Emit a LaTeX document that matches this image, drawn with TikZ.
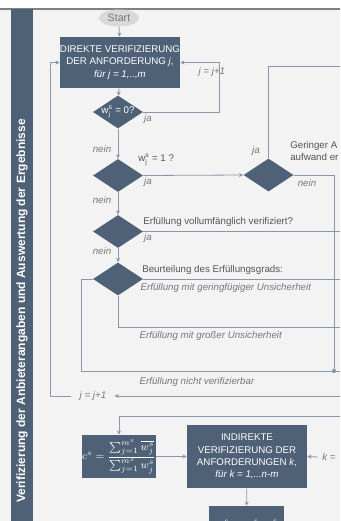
\documentclass[tikz,border=0pt]{standalone}
\usepackage{amsmath}
\usepackage{fontspec}
\setmainfont{Liberation Sans}
\usepackage{tikz}
\usetikzlibrary{positioning, shapes.geometric, arrows.meta, calc}

\definecolor{slate}{HTML}{4F6177}
\definecolor{bglight}{HTML}{F3F3F3}
\definecolor{linecol}{HTML}{8A97AA}
\definecolor{lblgray}{HTML}{777777}
\definecolor{condgray}{HTML}{555555}
\definecolor{startgray}{HTML}{D9D9D9}

\newcommand{\boxfont}{\fontsize{7.3pt}{9.3pt}\selectfont}

\tikzset{
  arrow/.style={-{Stealth[length=3.2pt,width=3pt]}, draw=linecol, line width=0.6pt},
  link/.style={draw=linecol, line width=0.6pt},
  procbox/.style={
    fill=slate, text=white, inner sep=0pt,
    align=center, font=\boxfont
  },
  decision/.style={
    diamond, fill=slate, inner sep=0pt,
    minimum width=37.5pt, minimum height=24.75pt
  }
}

\begin{document}
\begin{tikzpicture}[x=0.75pt, y=-0.75pt,
  startnode/.style={ellipse, fill=startgray, text=lblgray, minimum width=30pt, minimum height=12.75pt, inner sep=0pt, font=\fontsize{8pt}{9pt}\selectfont},
  lbl/.style={font=\boxfont\itshape, text=lblgray, inner sep=1pt},
  cond/.style={font=\boxfont, text=condgray, inner sep=0pt, anchor=west},
  dtext/.style={font=\boxfont, text=white},
  lane/.style={rotate=90, text=white, font=\fontsize{9pt}{10pt}\selectfont\bfseries}
]
\useasboundingbox (0,0) rectangle (340,521);
\clip (0,0) rectangle (340,521);

%% background and lane
\fill[bglight] (0,9) rectangle (340,521);
\draw[gray, line width=0.8pt] (0,9) -- (340,9);
\fill[slate] (11,9) rectangle (33,521);
\node[lane] (lanetitle) at (22,311) {Verifizierung der Anbieterangaben und Auswertung der Ergebnisse};

%% direct verification
\node[startnode] (start) at (119,18) {Start};
\node[procbox, minimum width=90pt, minimum height=38.25pt] (dirv) at (120,62.5)
  {DIREKTE VERIFIZIERUNG\\DER ANFORDERUNG \textit{j},\\\textit{für j = 1,..,m}};

\node[decision, label={[dtext]center:$\mathrm{w}_{\mathrm{j}}^{\mathrm{s}}$ = 0?}] (d1) at (118,112) {};
\node[decision] (d2) at (118,175.5) {};
\node[decision] (d3) at (118,231.5) {};
\node[decision] (d4) at (118,279) {};
\node[decision] (dr) at (268.5,175) {};

%% exits to the right
\coordinate (outA) at (340,66);
\coordinate (outB) at (340,231.5);
\coordinate (outC) at (340,279);
\coordinate (outD) at (340,327);
\coordinate (outE) at (340,371);
\coordinate (jn) at (334,371);
\coordinate (jin) at (340,396);
\coordinate (fin) at (340,416);

%% condition texts
\node[cond] (c2) at (138,160) {$\mathrm{w}_{\mathrm{j}}^{\mathrm{s}}$ = 1 ?};
\node[cond] (c3) at (143,222) {Erfüllung vollumfänglich verifiziert?};
\node[cond] (c4) at (142,270) {Beurteilung des Erfüllungsgrads:};
\node[cond, anchor=north west, align=left] (cr) at (290,141) {Geringer A\\aufwand er};

%% labels
\node[lbl, anchor=west] (jnext) at (197,72) {j = j+1};
\node[lbl] (nein1) at (102,149) {nein};
\node[lbl] (nein2) at (102,200) {nein};
\node[lbl] (nein3) at (102,251) {nein};
\node[lbl] (ja1) at (148,119) {ja};
\node[lbl] (ja2) at (148,182) {ja};
\node[lbl] (ja3) at (148,238) {ja};
\node[lbl] (jar) at (256,151) {ja};
\node[lbl] (neinr) at (307,183) {nein};
\node[lbl, anchor=west] (e1) at (139,288) {Erfüllung mit geringfügiger Unsicherheit};
\node[lbl, anchor=west] (e2) at (138,336) {Erfüllung mit großer Unsicherheit};
\node[lbl, anchor=west] (e3) at (138,382) {Erfüllung nicht verifizierbar};

%% indirect verification
\node[lbl, inner xsep=6pt] (jinc) at (93,396) {j = j+1};
\node[procbox, minimum width=55.5pt, minimum height=32.25pt, font=\fontsize{8pt}{9pt}\selectfont] (fbox) at (119,456.5)
  {$c^s = \dfrac{\sum\nolimits_{j=1}^{m^s}\overline{w_j^s}}{\sum\nolimits_{j=1}^{m^s} w_j^s}$};
\node[procbox, minimum width=90pt, minimum height=47.25pt] (indv) at (247,456.5)
  {INDIREKTE\\VERIFIZIERUNG DER\\ANFORDERUNGEN \textit{k},\\\textit{für k = 1,...n-m}};
\node[lbl, anchor=west, inner xsep=3pt] (kinc) at (318,457) {k =};
\node[procbox, minimum width=56.25pt, minimum height=30pt, font=\fontsize{8pt}{9pt}\selectfont] (wbox) at (246.5,526)
  {$\overline{w}_k^s = w_k^s \cdot c^s$};

%% connectors
\draw[arrow] (start) -- (dirv);
\draw[arrow] (dirv) -- (d1);
\draw[arrow] (d1.east) -- ++(76,0) |- (dirv.east);
\draw[arrow] (d1) -- (d2);
\draw[arrow] (d2) -- (d3);
\draw[arrow] (d3) -- (d4);
\draw[arrow] (d2.east) -- (dr.west);
\draw[link] (dr.north) |- (outA);
\draw[link] (dr.east) -| (jn);
\fill[linecol] (jn) circle (1.6pt);
\draw[link] (d3.east) -- (outB);
\draw[link] (d4.east) -- (outC);
\draw[link] (d4.south) |- (outD);
\draw[link] (d4.west) -- ++(-11,0) |- (outE);

\draw[arrow] (jin) -- (jinc.east);
\draw[arrow] (jinc.west) -- ++(-21,0) |- (dirv.west);
\draw[arrow] (fin) -| (fbox.north);
\draw[arrow] (fbox) -- (indv);
\draw[arrow] (kinc.west) -- (indv.east);
\draw[arrow] (indv) -- (wbox);

\end{tikzpicture}
\end{document}
